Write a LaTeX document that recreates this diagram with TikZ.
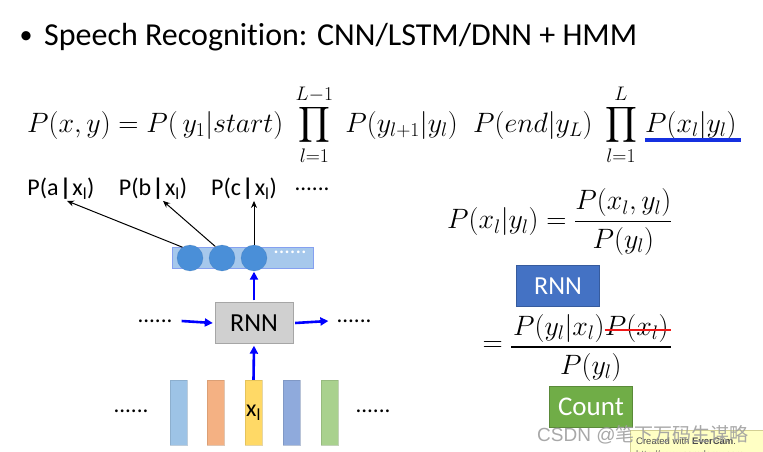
\documentclass[tikz,border=0pt]{standalone}
\usepackage{fix-cm}
\usepackage{exscale}
\usepackage{fontspec}
\setmainfont{Carlito}[Ligatures=NoCommon]
\newfontfamily\cjkf{Noto Sans CJK SC}
\newfontfamily\wmf{Liberation Sans}
\usetikzlibrary{arrows.meta,calc}
\definecolor{barbg}{HTML}{A6C8EC}
\definecolor{circ}{HTML}{4A8FD8}
\definecolor{cA}{HTML}{9DC3E6}
\definecolor{cB}{HTML}{F4B183}
\definecolor{cC}{HTML}{FFD966}
\definecolor{cD}{HTML}{8FAADC}
\definecolor{cE}{HTML}{A9D18E}
\definecolor{rnngray}{HTML}{D0D0D0}
\definecolor{rnnblue}{HTML}{4472C4}
\definecolor{countgreen}{HTML}{70AD47}
\definecolor{ulblue}{HTML}{1530E0}
\definecolor{strike}{HTML}{F01818}
\definecolor{evy}{HTML}{FFFFC4}
\newcommand{\vb}{\kern1.2pt\textbf{|}\kern1.2pt}
\begin{document}
\begin{tikzpicture}[x=1pt,y=-1pt,
  lab/.style={inner sep=1pt,font=\fontsize{24}{26}\selectfont},
  dots/.style={inner sep=1pt,font=\fontsize{23}{26}\selectfont},
  mth/.style={inner sep=0pt,font=\fontsize{28}{32}\selectfont},
  featbar/.style={minimum width=17pt,minimum height=65pt,inner sep=0pt,draw=#1!80!black,fill=#1,draw opacity=0.5},
  neuron/.style={circle,minimum size=26pt,inner sep=0pt,fill=circ,draw=circ!80!black,draw opacity=0.4},
  blk/.style={-{Stealth[length=7pt,width=6pt]},line width=1pt},
  bla/.style={-{Triangle[length=8pt,width=8pt]},line width=2.6pt,blue},
  tagbox/.style={minimum width=83pt,minimum height=41pt,inner sep=0pt,text=white},
  fline/.style={line width=1.1pt}
]
\useasboundingbox (0,0) rectangle (763,452);
\fill[white] (0,0) rectangle (763,452);

% title
\node[inner sep=0pt,font=\fontsize{26}{28}\selectfont] (bul) at (26,38) {•};
\node[anchor=base west,inner sep=0pt,font=\fontsize{32}{36}\selectfont] (title) at (44,46) {Speech Recognition: CNN/LSTM/DNN + HMM};

% main equation
\node[mth,anchor=base west] (eqA) at (27,132) {$\displaystyle P(x,y)=P(\,y_1|start)\;\prod_{l=1}^{L-1}\;P(y_{l+1}|y_l)\;\;P(end|y_L)\;\prod_{l=1}^{L}$};
\node[mth,anchor=base west] (eqB) at ([xshift=8pt]eqA.base east) {$\displaystyle P(x_l|y_l)$};
\draw[ulblue,line width=4pt] ([yshift=-8pt]eqB.base west) -- ([yshift=-8pt,xshift=4pt]eqB.base east);

% output labels
\node[lab] (la) at (61,189) {P(a\vb x\textsubscript{l})};
\node[lab] (lb) at (153,189) {P(b\vb x\textsubscript{l})};
\node[lab] (lc) at (244,189) {P(c\vb x\textsubscript{l})};
\node[dots] (ld) at (312,189) {......};

% output layer
\node[minimum width=141pt,minimum height=21pt,inner sep=0pt,fill=barbg,draw=barbg!80!blue] (bar) at (243,258) {};
\node[neuron] (c1) at (190,258) {};
\node[neuron] (c2) at (222,258) {};
\node[neuron] (c3) at (254,258) {};
\node[inner sep=0pt,text=white,font=\fontsize{22}{24}\selectfont] (bd) at (290,252) {......};

\draw[blk] (c1.125) -- ([xshift=6pt]la.south);
\draw[blk] (c2.120) -- ([xshift=10pt]lb.south);
\draw[blk] (c3.north) -- (c3.north |- lc.south);

% RNN
\node[minimum width=78pt,minimum height=41pt,inner sep=0pt,fill=rnngray,draw=gray!70,font=\fontsize{26}{28}\selectfont] (rnn) at (254,323) {RNN};
\node[dots] (dl) at (155,321) {......};
\node[dots] (dr) at (354,321) {......};
\draw[bla] ([xshift=8pt]dl.east) -- ([xshift=-2pt]rnn.west);
\draw[bla] ([xshift=2pt]rnn.east) -- ([xshift=-7pt]dr.west);
\draw[bla] ([yshift=2pt]rnn.north) -- ([yshift=-3pt]rnn.north |- bar.south);

% feature bars
\node[featbar=cA] (f1) at (178.5,412.5) {};
\node[featbar=cB] (f2) at (215.5,412.5) {};
\node[featbar=cC,font=\fontsize{24}{26}\selectfont] (f3) at (253.5,412.5) {x\textsubscript{l}};
\node[featbar=cD] (f4) at (291.5,412.5) {};
\node[featbar=cE] (f5) at (329.5,412.5) {};
\node[dots] (fl) at (131,411) {......};
\node[dots] (fr) at (373,411) {......};
\draw[bla] (f3.north) -- ([yshift=-2pt]rnn.south);

% right equation 1
\node[mth,anchor=west] (eq2) at (447,222) {$\displaystyle P(x_l|y_l)=\frac{P(x_l,y_l)}{P(y_l)}$};
\node[tagbox,fill=rnnblue,draw=rnnblue!80!black,font=\fontsize{26}{28}\selectfont] (rb) at (558,286) {RNN};

% right equation 2 (built by hand)
\node[mth,anchor=base west] (numA) at (513,335) {$P(y_l|x_l)$};
\node[mth,anchor=base west] (numB) at (numA.base east) {$P(x_l)$};
\coordinate (fa) at ([xshift=-2pt]numA.west |- 0,347);
\coordinate (fb) at ([xshift=2pt]numB.east |- 0,347);
\draw[fline] (fa) -- (fb);
\node[mth,anchor=base] (den) at ($(fa)!0.5!(fb)+(0,27)$) {$P(y_l)$};
\node[mth,anchor=east] (eqs) at ([xshift=-8pt]fa) {$=$};
\draw[strike,line width=2.5pt] ([yshift=-2pt]numB.west) -- ([yshift=-2pt,xshift=2pt]numB.east);
\node[tagbox,fill=countgreen,draw=countgreen!80!black,font=\fontsize{27}{30}\selectfont] (cnt) at (591,407) {Count};

% watermarks
\begin{scope}
\clip (0,0) rectangle (763,452);
\fill[evy,draw=yellow!60!black!50] (630,430) rectangle (766,456);
\node[anchor=west,inner sep=0pt,font=\wmf\fontsize{9.5}{11}\selectfont,text=black!70] (ev) at (636,441) {Created with \textbf{EverCam}.};
\node[anchor=west,inner sep=0pt,font=\wmf\fontsize{9.5}{11}\selectfont,text=black!60] (ev2) at (636,455) {http://www.camdemy.com};
\end{scope}
\node[anchor=west,inner sep=0pt,font=\wmf\fontsize{19}{21}\selectfont,text=gray!75,opacity=0.9] (wm) at (537,435) {CSDN @{\cjkf 笔下万码生谋略}};
\end{tikzpicture}
\end{document}
